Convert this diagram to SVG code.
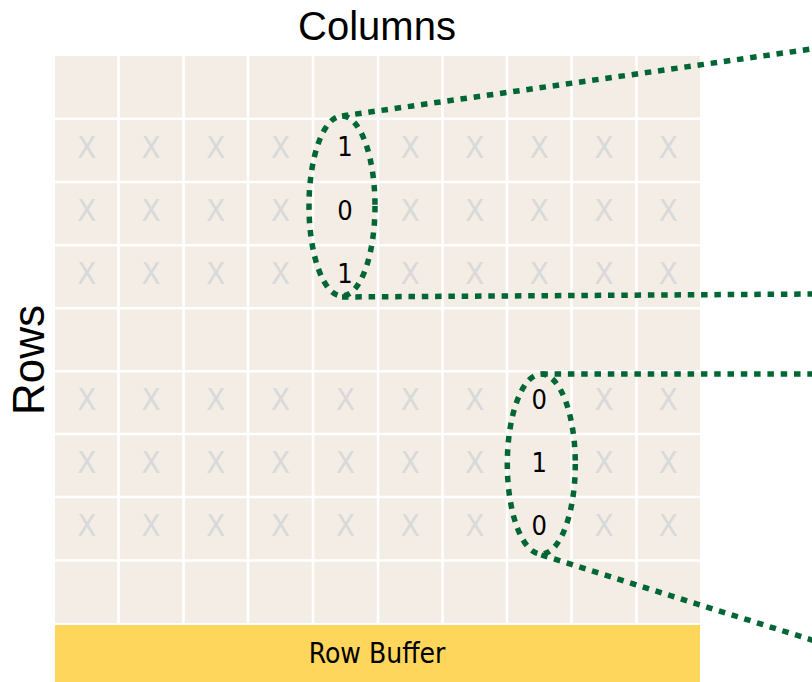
<svg xmlns="http://www.w3.org/2000/svg" width="812" height="682" viewBox="0 0 812 682">
  <style>
    .cell-bg { fill: #F3EDE5; }
    .gap { stroke: #FFFFFF; stroke-width: 2.6; }
    .x { font-family: "DejaVu Sans Condensed", "DejaVu Sans", sans-serif; font-size: 31px; fill: #D9D9D9; text-anchor: middle; }
    .bit { font-family: "DejaVu Sans Condensed", "DejaVu Sans", sans-serif; font-size: 27px; fill: #000000; text-anchor: middle; }
    .title { font-family: "Liberation Sans", Arial, sans-serif; fill: #000000; text-anchor: middle; }
    .dots { fill: none; stroke: #006633; stroke-width: 5.5; stroke-dasharray: 6.5 6.8; }
    .buffer { fill: #FED65C; }
    .buffer-label { font-family: "DejaVu Sans Condensed", "DejaVu Sans", sans-serif; font-size: 28px; fill: #000000; text-anchor: middle; }
  </style>

  <rect width="812" height="682" fill="#FFFFFF"/>

  <!-- axis labels -->
  <text class="title" x="377" y="40" font-size="40">Columns</text>
  <text class="title" font-size="44" transform="translate(44 360) rotate(-90)">Rows</text>

  <!-- memory array -->
  <g id="array">
    <rect class="cell-bg" x="55" y="56" width="645" height="567"/>
    <g class="gap">
      <line x1="118.5" y1="56" x2="118.5" y2="623"/>
      <line x1="183.5" y1="56" x2="183.5" y2="623"/>
      <line x1="248" y1="56" x2="248" y2="623"/>
      <line x1="313" y1="56" x2="313" y2="623"/>
      <line x1="378" y1="56" x2="378" y2="623"/>
      <line x1="442.5" y1="56" x2="442.5" y2="623"/>
      <line x1="507" y1="56" x2="507" y2="623"/>
      <line x1="571.5" y1="56" x2="571.5" y2="623"/>
      <line x1="636.5" y1="56" x2="636.5" y2="623"/>
      <line x1="55" y1="118.7" x2="700" y2="118.7"/>
      <line x1="55" y1="182" x2="700" y2="182"/>
      <line x1="55" y1="245.3" x2="700" y2="245.3"/>
      <line x1="55" y1="308.2" x2="700" y2="308.2"/>
      <line x1="55" y1="371.2" x2="700" y2="371.2"/>
      <line x1="55" y1="434" x2="700" y2="434"/>
      <line x1="55" y1="497" x2="700" y2="497"/>
      <line x1="55" y1="560.5" x2="700" y2="560.5"/>
    </g>
  </g>

  <!-- unselected cells, upper block -->
  <g id="cells-upper">
    <text class="x" x="86.8" y="157.5">X</text><text class="x" x="151" y="157.5">X</text><text class="x" x="215.8" y="157.5">X</text><text class="x" x="280.5" y="157.5">X</text>
    <text class="x" x="410.3" y="157.5">X</text><text class="x" x="474.8" y="157.5">X</text><text class="x" x="539.3" y="157.5">X</text><text class="x" x="604" y="157.5">X</text><text class="x" x="668.3" y="157.5">X</text>
    <text class="x" x="86.8" y="220.8">X</text><text class="x" x="151" y="220.8">X</text><text class="x" x="215.8" y="220.8">X</text><text class="x" x="280.5" y="220.8">X</text>
    <text class="x" x="410.3" y="220.8">X</text><text class="x" x="474.8" y="220.8">X</text><text class="x" x="539.3" y="220.8">X</text><text class="x" x="604" y="220.8">X</text><text class="x" x="668.3" y="220.8">X</text>
    <text class="x" x="86.8" y="283.8">X</text><text class="x" x="151" y="283.8">X</text><text class="x" x="215.8" y="283.8">X</text><text class="x" x="280.5" y="283.8">X</text>
    <text class="x" x="410.3" y="283.8">X</text><text class="x" x="474.8" y="283.8">X</text><text class="x" x="539.3" y="283.8">X</text><text class="x" x="604" y="283.8">X</text><text class="x" x="668.3" y="283.8">X</text>
  </g>

  <!-- unselected cells, lower block -->
  <g id="cells-lower">
    <text class="x" x="86.8" y="409.7">X</text><text class="x" x="151" y="409.7">X</text><text class="x" x="215.8" y="409.7">X</text><text class="x" x="280.5" y="409.7">X</text><text class="x" x="345.5" y="409.7">X</text><text class="x" x="410.3" y="409.7">X</text><text class="x" x="474.8" y="409.7">X</text>
    <text class="x" x="604" y="409.7">X</text><text class="x" x="668.3" y="409.7">X</text>
    <text class="x" x="86.8" y="472.7">X</text><text class="x" x="151" y="472.7">X</text><text class="x" x="215.8" y="472.7">X</text><text class="x" x="280.5" y="472.7">X</text><text class="x" x="345.5" y="472.7">X</text><text class="x" x="410.3" y="472.7">X</text><text class="x" x="474.8" y="472.7">X</text>
    <text class="x" x="604" y="472.7">X</text><text class="x" x="668.3" y="472.7">X</text>
    <text class="x" x="86.8" y="535.9">X</text><text class="x" x="151" y="535.9">X</text><text class="x" x="215.8" y="535.9">X</text><text class="x" x="280.5" y="535.9">X</text><text class="x" x="345.5" y="535.9">X</text><text class="x" x="410.3" y="535.9">X</text><text class="x" x="474.8" y="535.9">X</text>
    <text class="x" x="604" y="535.9">X</text><text class="x" x="668.3" y="535.9">X</text>
  </g>

  <!-- selected column bits -->
  <g id="bits-a">
    <text class="bit" x="345" y="156">1</text>
    <text class="bit" x="345" y="219.5">0</text>
    <text class="bit" x="345" y="282.5">1</text>
  </g>
  <g id="bits-b">
    <text class="bit" x="539.3" y="408.5">0</text>
    <text class="bit" x="539.3" y="471.5">1</text>
    <text class="bit" x="539.3" y="534.5">0</text>
  </g>

  <!-- row buffer -->
  <g id="row-buffer">
    <rect class="buffer" x="55" y="625" width="645" height="57"/>
    <text class="buffer-label" x="377" y="663.3">Row Buffer</text>
  </g>

  <!-- dotted selections and zoom-out lines -->
  <g id="connectors" class="dots">
    <ellipse cx="342" cy="206" rx="33" ry="90"/>
    <line x1="342" y1="116" x2="815" y2="48.5"/>
    <line x1="342" y1="297" x2="815" y2="294"/>
    <ellipse cx="541.3" cy="464" rx="34" ry="90"/>
    <line x1="541.3" y1="374" x2="815" y2="374"/>
    <line x1="541.3" y1="555" x2="815" y2="641"/>
  </g>
</svg>
